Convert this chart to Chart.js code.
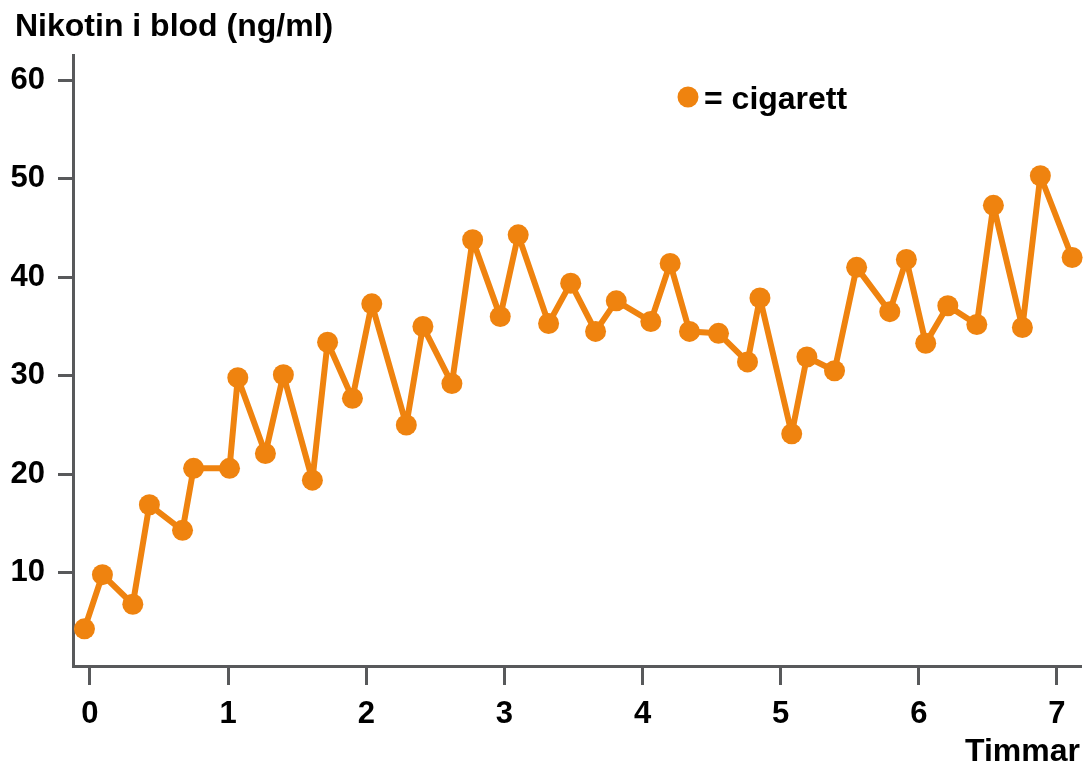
<!DOCTYPE html>
<html>
<head>
<meta charset="utf-8">
<script src="https://cdn.jsdelivr.net/npm/chart.js@4/dist/chart.umd.min.js"></script>
<style>
  html, body { margin: 0; padding: 0; background: #fff; }
  #wrap { width: 1084px; height: 768px; }
</style>
</head>
<body>
<div id="wrap"><canvas id="nicotineChart" width="1084" height="768"></canvas></div>
<script>
// values
const hours = [-0.04, 0.09, 0.31, 0.43, 0.67, 0.75, 1.01, 1.07, 1.27, 1.40, 1.61, 1.72, 1.90, 2.04,
  2.29, 2.41, 2.62, 2.77, 2.97, 3.10, 3.32, 3.48, 3.66, 3.81, 4.06, 4.20, 4.34, 4.55, 4.76, 4.85,
  5.08, 5.19, 5.39, 5.55, 5.79, 5.91, 6.05, 6.21, 6.42, 6.54, 6.75, 6.88, 7.11];
const nicotine = [4.3, 9.8, 6.8, 16.9, 14.3, 20.6, 20.6, 29.8, 22.1, 30.1, 19.4, 33.4, 27.7, 37.3,
  25.0, 35.0, 29.2, 43.8, 36.0, 44.3, 35.3, 39.4, 34.5, 37.6, 35.5, 41.4, 34.5, 34.3, 31.4, 37.9,
  24.1, 31.9, 30.5, 41.0, 36.5, 41.8, 33.3, 37.1, 35.2, 47.3, 34.9, 50.3, 42.0];
const xTicks = [0, 1, 2, 3, 4, 5, 6, 7];
const yTicks = [10, 20, 30, 40, 50, 60];

const titleText = 'Nikotin i blod (ng/ml)';
const xTitle = 'Timmar';
const legendText = '= cigarett';

const orange = '#EF830F';
const axisGrey = '#58595B';
const fontFamily = '"Liberation Sans", Arial, Helvetica, sans-serif';

// axis title above the y axis and the small legend inside the plot
const annotations = {
    id: 'annotations',
    afterDraw(chart) {
        const ctx = chart.ctx;
        const area = chart.chartArea;
        ctx.save();
        ctx.fillStyle = '#000';
        ctx.font = 'bold 32px ' + fontFamily;
        ctx.textBaseline = 'alphabetic';
        ctx.textAlign = 'left';
        ctx.fillText(titleText, 15, 36);

        const x = area.left + 615;
        const y = 97;
        ctx.fillStyle = orange;
        ctx.beginPath();
        ctx.arc(x, y, 10.5, 0, Math.PI * 2);
        ctx.fill();
        ctx.fillStyle = '#000';
        ctx.textBaseline = 'middle';
        ctx.fillText(legendText, x + 16, y + 3);
        ctx.restore();
    }
};

const ctx = document.getElementById('nicotineChart');
new Chart(ctx, {
    type: 'line',
    data: {
        datasets: [{
            label: legendText,
            data: hours.map((h, i) => ({ x: h, y: nicotine[i] })),
            borderColor: orange,
            backgroundColor: orange,
            borderWidth: 6,
            borderJoinStyle: 'round',
            borderCapStyle: 'round',
            pointRadius: 10.5,
            pointBackgroundColor: orange,
            pointBorderColor: orange,
            pointBorderWidth: 0,
            tension: 0,
            clip: false
        }]
    },
    options: {
        responsive: false,
        animation: false,
        events: [],
        layout: { autoPadding: false, padding: { left: 0, right: 4, top: 55, bottom: 0 } },
        plugins: {
            legend: { display: false },
            tooltip: { enabled: false },
            title: { display: false }
        },
        scales: {
            x: {
                type: 'linear',
                min: -0.123,
                max: 7.167,
                afterFit: (scale) => { scale.height = 102; },
                afterBuildTicks: (scale) => { scale.ticks = xTicks.map(v => ({ value: v })); },
                border: { display: true, color: axisGrey, width: 3 },
                grid: { drawOnChartArea: false, drawTicks: true, tickLength: 19, color: axisGrey, lineWidth: 3 },
                ticks: {
                    color: '#000',
                    padding: 11,
                    maxRotation: 0,
                    font: { family: fontFamily, size: 31, weight: 'bold' }
                },
                title: {
                    display: true,
                    text: xTitle,
                    align: 'end',
                    color: '#000',
                    font: { family: fontFamily, size: 32, weight: 'bold', lineHeight: 1 },
                    padding: { top: 0, bottom: 0 }
                }
            },
            y: {
                type: 'linear',
                min: 0.53,
                max: 62.56,
                afterFit: (scale) => { scale.width = 73; },
                afterBuildTicks: (scale) => { scale.ticks = yTicks.map(v => ({ value: v })); },
                border: { display: true, color: axisGrey, width: 3 },
                grid: { drawOnChartArea: false, drawTicks: true, tickLength: 15, color: axisGrey, lineWidth: 3 },
                ticks: {
                    color: '#000',
                    padding: 13,
                    font: { family: fontFamily, size: 31, weight: 'bold' }
                }
            }
        }
    },
    plugins: [annotations]
});
</script>
</body>
</html>
